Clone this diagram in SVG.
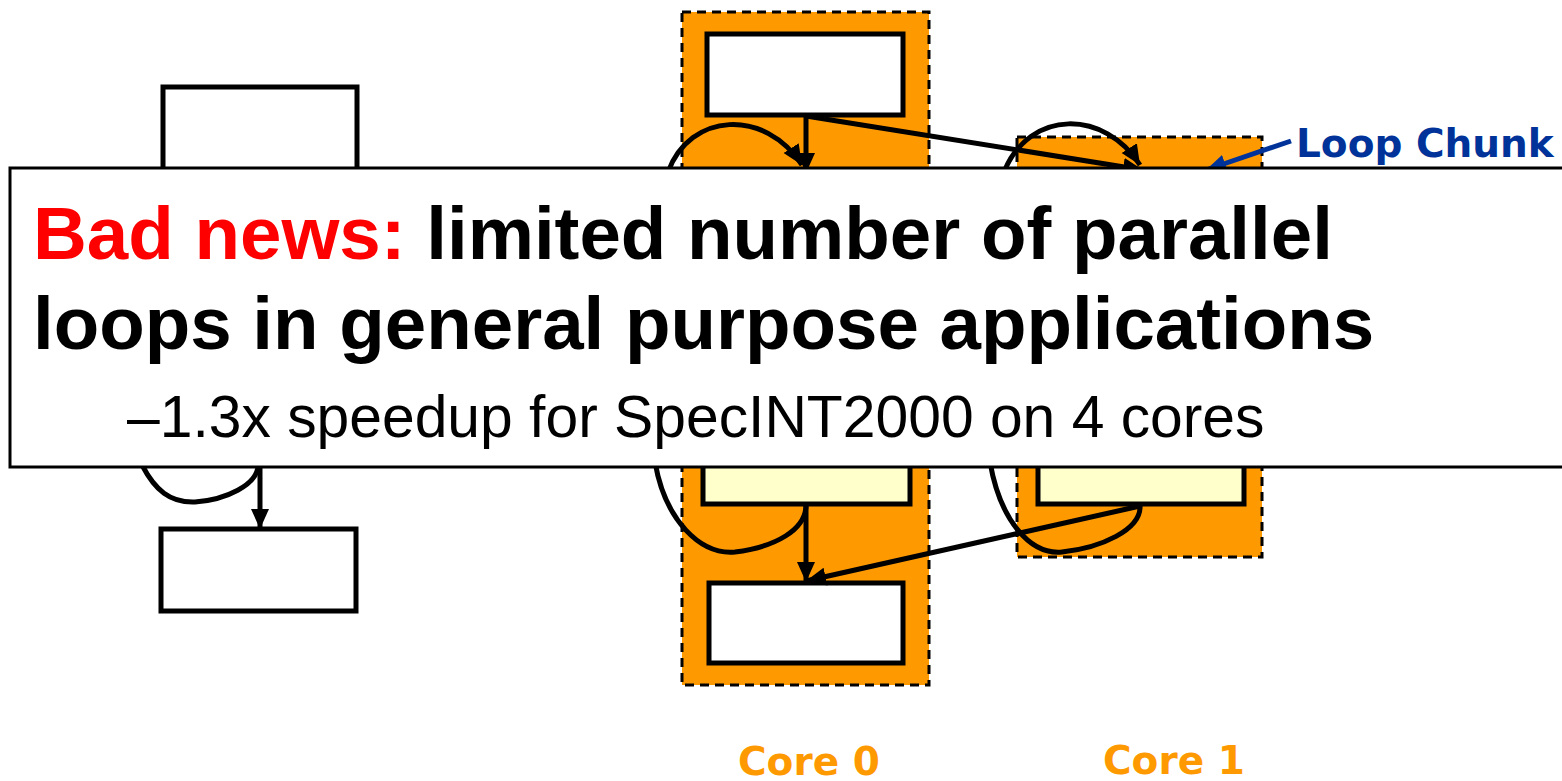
<svg xmlns="http://www.w3.org/2000/svg" width="1562" height="781" viewBox="0 0 1562 781">
<style>
.core{fill:#FF9900;stroke:#000;stroke-width:3;stroke-dasharray:9,6}
.box{fill:#fff;stroke:#000;stroke-width:5}
.ybox{fill:#FFFFCC;stroke:#000;stroke-width:5}
.conn{fill:none;stroke:#000;stroke-width:5}
.lbl{font-family:"DejaVu Sans",Verdana,sans-serif;font-weight:bold}
.ov{font-family:"Liberation Sans",Arial,sans-serif}
</style>
<defs>
<marker id="ah" markerUnits="userSpaceOnUse" markerWidth="22" markerHeight="20" refX="20" refY="10" orient="auto">
<path d="M0,1 L20,10 L0,19 Z" fill="#000"/>
</marker>
<marker id="ahb" markerUnits="userSpaceOnUse" markerWidth="22" markerHeight="20" refX="20" refY="10" orient="auto">
<path d="M0,1 L20,10 L0,19 Z" fill="#003399"/>
</marker>
</defs>
<g id="core0">
<rect class="core" x="682" y="12" width="247" height="673"/>
</g>
<g id="core1">
<rect class="core" x="1017" y="137" width="245" height="420"/>
</g>
<g id="left-top"><rect class="box" x="163" y="87" width="194" height="100"/></g>
<g id="left-bottom"><rect class="box" x="161" y="529" width="195" height="82"/></g>
<g id="core0-top"><rect class="box" x="707" y="34" width="196" height="81"/></g>
<g id="core0-loop"><rect class="ybox" x="703" y="400" width="207" height="104"/></g>
<g id="core0-bottom"><rect class="box" x="709" y="583" width="194" height="80"/></g>
<g id="core1-loop"><rect class="ybox" x="1038" y="400" width="206" height="104"/></g>
<g id="connectors">
<line class="conn" x1="806" y1="115" x2="806" y2="173" marker-end="url(#ah)"/>
<line class="conn" x1="806" y1="116" x2="1143" y2="170" marker-end="url(#ah)"/>
<path class="conn" d="M668 172 C690 112,765 108,802 165" marker-end="url(#ah)"/>
<path class="conn" d="M1004 172 C1030 108,1105 110,1140 165" marker-end="url(#ah)"/>
<line x1="1291" y1="141" x2="1206" y2="170" stroke="#003399" stroke-width="5" marker-end="url(#ahb)"/>
<path class="conn" d="M142 465 C155 490,170 503,195 502 C225 500,258 485,258 465"/>
<line class="conn" x1="260" y1="465" x2="260" y2="529" marker-end="url(#ah)"/>
<path class="conn" d="M655 462 C665 520,700 555,735 552 C775 547,806 530,806 505"/>
<line class="conn" x1="806" y1="504" x2="806" y2="582" marker-end="url(#ah)"/>
<path class="conn" d="M990 462 C1000 520,1030 555,1062 552 C1100 548,1142 530,1140 505"/>
<line class="conn" x1="1140" y1="506" x2="806" y2="581" marker-end="url(#ah)"/>
</g>
<g id="loop-chunk-label"><text class="lbl" x="1296" y="157" font-size="39" fill="#003399">Loop Chunk</text></g>
<g id="core0-label"><text class="lbl" x="738" y="775" font-size="39" fill="#FF9900">Core 0</text></g>
<g id="core1-label"><text class="lbl" x="1103" y="774" font-size="39" fill="#FF9900">Core 1</text></g>
<g id="overlay">
<rect x="10" y="168" width="1560" height="299" fill="#fff" stroke="#000" stroke-width="3"/>
<text class="ov" x="33" y="259" font-size="74.5" font-weight="bold"><tspan fill="#FF0000">Bad news:</tspan><tspan fill="#000"> limited number of parallel</tspan></text>
<text class="ov" x="33" y="349" font-size="74.5" font-weight="bold" fill="#000">loops in general purpose applications</text>
<text class="ov" x="127" y="437" font-size="58.8" fill="#000">–1.3x speedup for SpecINT2000 on 4 cores</text>
</g>
</svg>
